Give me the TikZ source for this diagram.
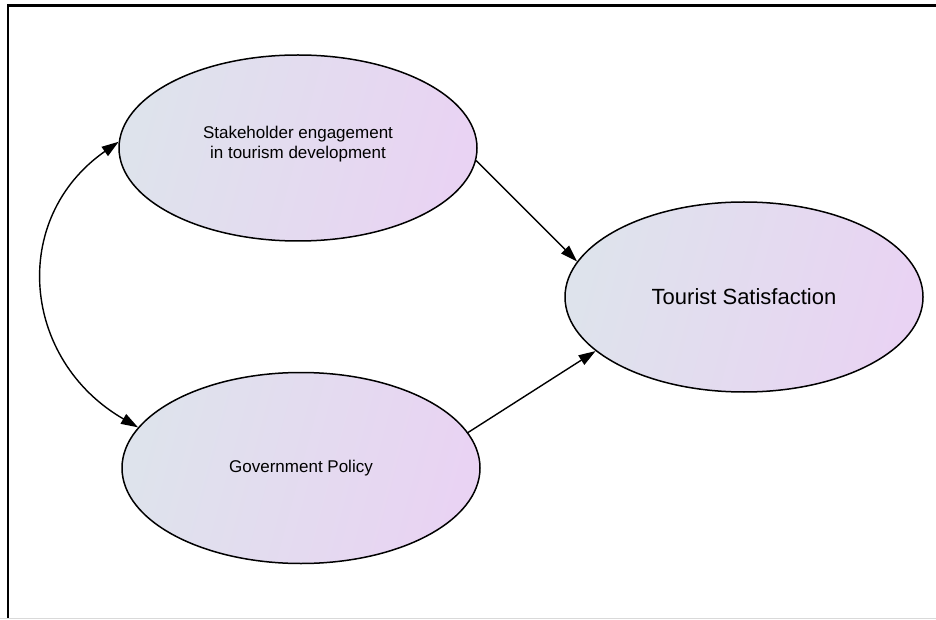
\documentclass[tikz,border=0pt]{standalone}
\usepackage{fontspec}
\setmainfont{Liberation Sans}
\usetikzlibrary{positioning}
\usetikzlibrary{arrows.meta,shapes}
\usetikzlibrary{shadings}

\definecolor{lblue}{RGB}{222,227,236}
\definecolor{lpurple}{RGB}{233,211,243}

\begin{document}
\begin{tikzpicture}[x=1pt, y=1pt,
    latent/.style={ellipse, draw, line width=1.5pt, inner sep=0pt,
        left color=lblue, right color=lpurple, shading angle=75,
        minimum width=358pt, minimum height=186pt, align=center},
    path/.style={line width=1.4pt, -{Triangle[length=17pt,width=11pt]}}]

    \useasboundingbox (0,0) rectangle (936,619);

    % frame
    \draw[black!15, line width=1pt] (0,1) -- (936,1);
    \draw[line width=2.4pt] (8,1.5) -- (8,613.5) -- (936,613.5);

    % constructs
    \node[latent, font=\fontsize{17}{20}\selectfont] (sh) at (298,471)
        {Stakeholder engagement\\ in tourism development\\[-8pt]};
    \node[latent, minimum height=191pt, font=\fontsize{17}{20}\selectfont] (gp) at (301,151)
        {Government Policy};
    \node[latent, minimum height=190pt, font=\fontsize{22}{24}\selectfont] (ts) at (744,322)
        {Tourist Satisfaction};

    % paths
    \draw[path] (sh.-4) -- (ts.168);
    \draw[path] (gp.12) -- (ts.200);

    % covariance
    \draw[line width=1.4pt, {Triangle[length=17pt,width=11pt]}-{Triangle[length=17pt,width=11pt]}]
        (sh.178) to[out=215, in=150, looseness=1.2] (gp.166);

\end{tikzpicture}
\end{document}
